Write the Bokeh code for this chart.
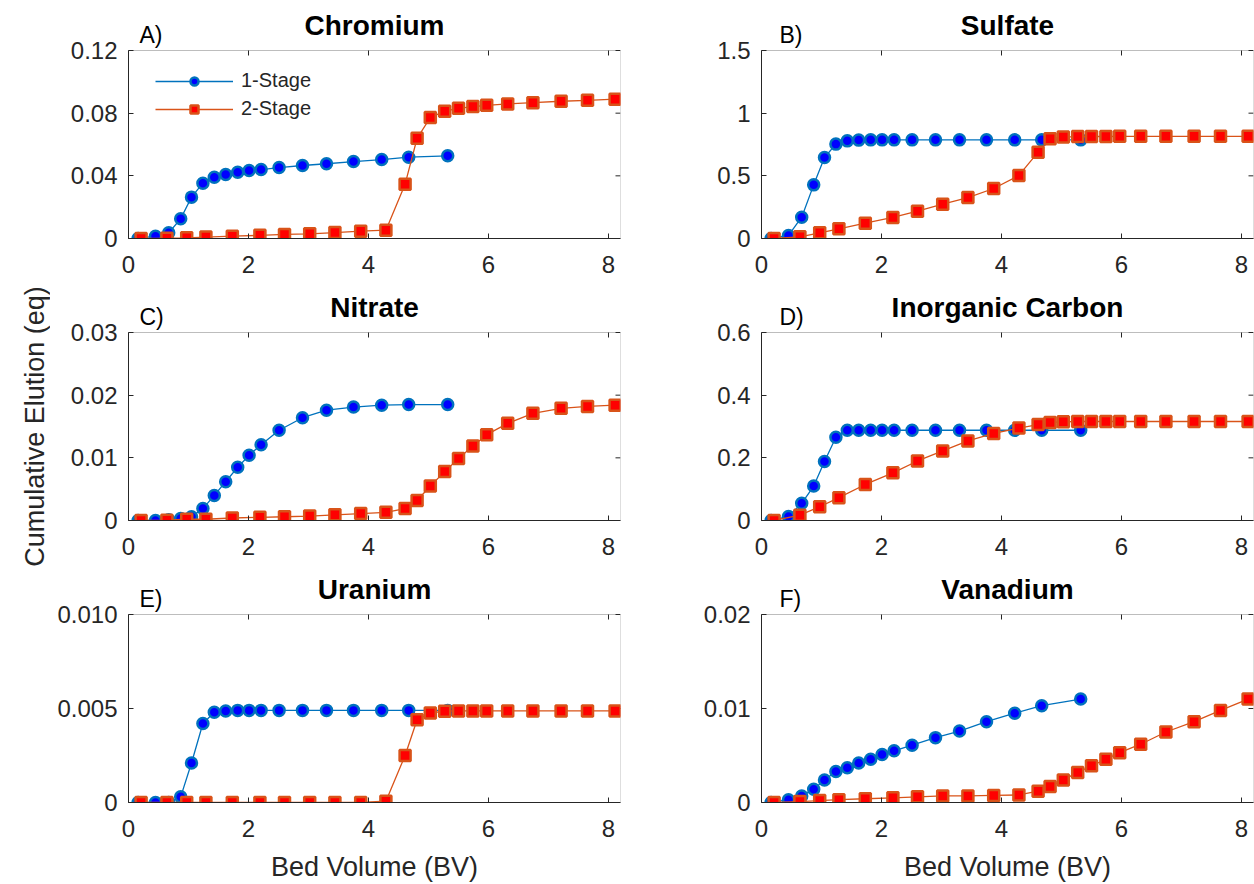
import math

from bokeh.plotting import figure
from bokeh.layouts import column, row
from bokeh.models import (Range1d, FixedTicker, Label, Legend, LegendItem,
                          BoxAnnotation)
from bokeh.embed import file_html
from bokeh.resources import INLINE

# Bed volumes sampled for each configuration
bv_1stage = [0.16, 0.45, 0.67, 0.87, 1.05, 1.24, 1.43, 1.62, 1.82, 2.01, 2.21,
             2.51, 2.90, 3.30, 3.75, 4.22, 4.67, 5.32]
bv_2stage = [0.21, 0.64, 0.97, 1.29, 1.73, 2.19, 2.60, 3.02, 3.44, 3.87, 4.29,
             4.61, 4.81, 5.03, 5.27, 5.50, 5.74, 5.97, 6.32, 6.74, 7.21, 7.65, 8.11]

# Cumulative elution (eq)
chromium_1 = [0, 0.0015, 0.0036, 0.0126, 0.0264, 0.0353, 0.0391, 0.0409, 0.0423,
              0.0434, 0.0440, 0.0453, 0.0466, 0.0477, 0.0491, 0.0504, 0.0519, 0.0528]
chromium_2 = [0, 0.0002, 0.0004, 0.0009, 0.0015, 0.0020, 0.0026, 0.0030, 0.0038,
              0.0047, 0.0053, 0.0347, 0.0640, 0.0772, 0.0813, 0.0831, 0.0842,
              0.0850, 0.0859, 0.0867, 0.0876, 0.0882, 0.0889]

sulfate_1 = [0, 0.024, 0.17, 0.428, 0.646, 0.753, 0.779, 0.785, 0.787, 0.787,
             0.787, 0.787, 0.787, 0.787, 0.787, 0.787, 0.787, 0.787]
sulfate_2 = [0, 0.013, 0.045, 0.077, 0.122, 0.168, 0.218, 0.274, 0.327, 0.399,
             0.503, 0.689, 0.795, 0.809, 0.813, 0.814, 0.814, 0.815, 0.815,
             0.815, 0.815, 0.815, 0.815]

nitrate_1 = [0, 0, 0.0001, 0.0003, 0.0006, 0.0019, 0.0040, 0.0062, 0.0085, 0.0104,
             0.0121, 0.0144, 0.0164, 0.0176, 0.0181, 0.0184, 0.0185, 0.0185]
nitrate_2 = [0, 0.00005, 0.0002, 0.0002, 0.0004, 0.0005, 0.0006, 0.0007, 0.0009,
             0.0011, 0.0013, 0.0019, 0.0032, 0.0055, 0.0078, 0.0099, 0.0119,
             0.0137, 0.0155, 0.0171, 0.0179, 0.0182, 0.0184]

inorganic_carbon_1 = [0, 0.013, 0.055, 0.110, 0.188, 0.266, 0.288, 0.288, 0.288,
                      0.288, 0.288, 0.288, 0.288, 0.288, 0.288, 0.288, 0.288, 0.288]
inorganic_carbon_2 = [0, 0.017, 0.044, 0.073, 0.115, 0.152, 0.190, 0.222, 0.254,
                      0.278, 0.295, 0.306, 0.313, 0.315, 0.316, 0.316, 0.316,
                      0.316, 0.316, 0.316, 0.316, 0.316, 0.316]

uranium_1 = [0, 0, 0, 0.0003, 0.0021, 0.0042, 0.0048, 0.00487, 0.0049, 0.0049,
             0.0049, 0.0049, 0.0049, 0.0049, 0.0049, 0.0049, 0.0049, 0.0049]
uranium_2 = [0, 0, 0, 0, 0, 0, 0, 0, 0, 0, 0.00007, 0.0025, 0.0044, 0.00476,
             0.00486, 0.00487, 0.00487, 0.00487, 0.00487, 0.00487, 0.00487,
             0.00487, 0.00487]

vanadium_1 = [0, 0.0003, 0.0007, 0.0014, 0.0024, 0.0033, 0.0037, 0.0042, 0.0046,
              0.0051, 0.0055, 0.0061, 0.0069, 0.0076, 0.0086, 0.0095, 0.0103, 0.0110]
vanadium_2 = [0, 0.0001, 0.0002, 0.0003, 0.0004, 0.0005, 0.0006, 0.0007, 0.0007,
              0.00075, 0.0008, 0.0012, 0.0017, 0.0024, 0.0032, 0.0039, 0.0046,
              0.0053, 0.0062, 0.0075, 0.0086, 0.0098, 0.0110]

# Axis ticks
x_ticks = [0, 2, 4, 6, 8]
x_max = 8.2

FONT = "Liberation Sans"
AX = "#262626"
BLUE_LINE, BLUE_FACE = "#0072BD", "#0000FF"
RED_LINE, RED_FACE = "#D95319", "#FF0000"

panels = [
    dict(title="Chromium", letter="A)", y1=chromium_1, y2=chromium_2, ymax=0.12,
         ticks=[0, 0.04, 0.08, 0.12], labels=["0", "0.04", "0.08", "0.12"]),
    dict(title="Sulfate", letter="B)", y1=sulfate_1, y2=sulfate_2, ymax=1.5,
         ticks=[0, 0.5, 1, 1.5], labels=["0", "0.5", "1", "1.5"]),
    dict(title="Nitrate", letter="C)", y1=nitrate_1, y2=nitrate_2, ymax=0.03,
         ticks=[0, 0.01, 0.02, 0.03], labels=["0", "0.01", "0.02", "0.03"]),
    dict(title="Inorganic Carbon", letter="D)", y1=inorganic_carbon_1,
         y2=inorganic_carbon_2, ymax=0.6,
         ticks=[0, 0.2, 0.4, 0.6], labels=["0", "0.2", "0.4", "0.6"]),
    dict(title="Uranium", letter="E)", y1=uranium_1, y2=uranium_2, ymax=0.01,
         ticks=[0, 0.005, 0.01], labels=["0", "0.005", "0.010"]),
    dict(title="Vanadium", letter="F)", y1=vanadium_1, y2=vanadium_2, ymax=0.02,
         ticks=[0, 0.01, 0.02], labels=["0", "0.01", "0.02"]),
]

YLABEL_W = 50          # strip holding the shared y-axis title
TICK_LEN = 5
BOX_H = 188            # height of each axes box in px


def style_axis(ax, ticks, labels=None):
    ax.ticker = FixedTicker(ticks=ticks)
    ax.major_tick_in = TICK_LEN
    ax.major_tick_out = 0
    ax.minor_tick_line_color = None
    ax.major_tick_line_color = AX
    ax.axis_line_color = AX
    ax.major_label_text_font = FONT
    ax.major_label_text_font_size = "24px"
    ax.major_label_text_color = AX
    if labels is not None:
        ax.major_label_overrides = {t: s for t, s in zip(ticks, labels)}


def make_panel(cfg, col_idx, row_idx):
    left, right = (128 - YLABEL_W, 20) if col_idx == 0 else (121, 1)
    head = 50 if row_idx == 0 else 42      # room for letter + title
    bottom = 82 if row_idx == 2 else 52
    ymax = cfg["ymax"]
    # the frame also spans the heading strip; the axes box stops at ymax
    y_top = ymax * (BOX_H + head) / BOX_H
    p = figure(title=None, frame_width=492, frame_height=BOX_H + head,
               x_range=Range1d(0, x_max), y_range=Range1d(0, y_top),
               min_border_left=left, min_border_right=right,
               min_border_top=0, min_border_bottom=bottom,
               output_backend="svg", toolbar_location=None)
    p.grid.visible = False
    p.outline_line_color = None
    p.background_fill_color = "white"
    p.border_fill_color = "white"

    xax = p.xaxis[0]
    yax = p.yaxis[0]
    style_axis(xax, x_ticks)
    xax.major_label_standoff = 17
    style_axis(yax, cfg["ticks"], cfg["labels"])
    yax.major_label_standoff = 11
    yax.bounds = (0, ymax)

    # axes box
    p.add_layout(BoxAnnotation(left=0, right=x_max, bottom=0, top=ymax,
                               fill_alpha=0, line_color=AX, line_width=1,
                               level="underlay"))
    # inward ticks on the top and right edges of the box
    p.ray(x=x_ticks, y=[ymax] * len(x_ticks), length=TICK_LEN,
          length_units="screen", angle=-math.pi / 2, line_color=AX, line_width=1)
    p.ray(x=[x_max] * len(cfg["ticks"]), y=cfg["ticks"], length=TICK_LEN,
          length_units="screen", angle=math.pi, line_color=AX, line_width=1)

    l1 = p.line(bv_1stage, cfg["y1"], line_color=BLUE_LINE, line_width=1.3)
    s1 = p.scatter(bv_1stage, cfg["y1"], marker="circle", size=11,
                   fill_color=BLUE_FACE, line_color=BLUE_LINE, line_width=2.5)
    l2 = p.line(bv_2stage, cfg["y2"], line_color=RED_LINE, line_width=1.3)
    s2 = p.scatter(bv_2stage, cfg["y2"], marker="square", size=11,
                   fill_color=RED_FACE, line_color=RED_LINE, line_width=2.5)

    # panel letter and bold title above the box
    p.add_layout(Label(x=x_max / 2, y=ymax, y_offset=25, text=cfg["title"],
                       text_align="center", text_baseline="alphabetic",
                       text_font=FONT, text_font_style="bold",
                       text_font_size="28px", text_color="black"))
    p.add_layout(Label(x=0, y=ymax, x_offset=11 if col_idx == 0 else 18,
                       y_offset=16, text=cfg["letter"], text_align="left",
                       text_baseline="alphabetic", text_font=FONT,
                       text_font_size="23px", text_color="black"))

    if row_idx == 2:
        xax.axis_label = "Bed Volume (BV)"
        xax.axis_label_text_font = FONT
        xax.axis_label_text_font_size = "27px"
        xax.axis_label_text_font_style = "normal"
        xax.axis_label_text_color = AX
        xax.axis_label_standoff = 12

    if row_idx == 0 and col_idx == 0:
        legend = Legend(items=[LegendItem(label="1-Stage", renderers=[l1, s1]),
                               LegendItem(label="2-Stage", renderers=[l2, s2])],
                        location=(27, 118), border_line_color=None,
                        background_fill_alpha=0, glyph_width=78, glyph_height=20,
                        label_height=20, spacing=5, padding=0, margin=0,
                        label_standoff=8, label_text_font=FONT,
                        label_text_font_size="20px", label_text_color=AX)
        p.add_layout(legend)
    return p


# shared y-axis title on the far left
ylabel_fig = figure(title=None, width=YLABEL_W, height=884,
                    x_range=Range1d(0, 1), y_range=Range1d(0, 1),
                    x_axis_type=None, y_axis_type=None, min_border=0,
                    output_backend="svg", toolbar_location=None)
ylabel_fig.outline_line_color = None
ylabel_fig.grid.visible = False
ylabel_fig.add_layout(Label(x=0, y=0.5, x_offset=34, y_offset=16,
                            text="Cumulative Elution (eq)", angle=math.pi / 2,
                            text_align="center", text_baseline="alphabetic",
                            text_font=FONT, text_font_size="27px",
                            text_color=AX))

cols = [[], []]
for i, cfg in enumerate(panels):
    cols[i % 2].append(make_panel(cfg, i % 2, i // 2))

layout = row(ylabel_fig, column(*cols[0]), column(*cols[1]))

open("out.html", "w").write(file_html(layout, INLINE))
